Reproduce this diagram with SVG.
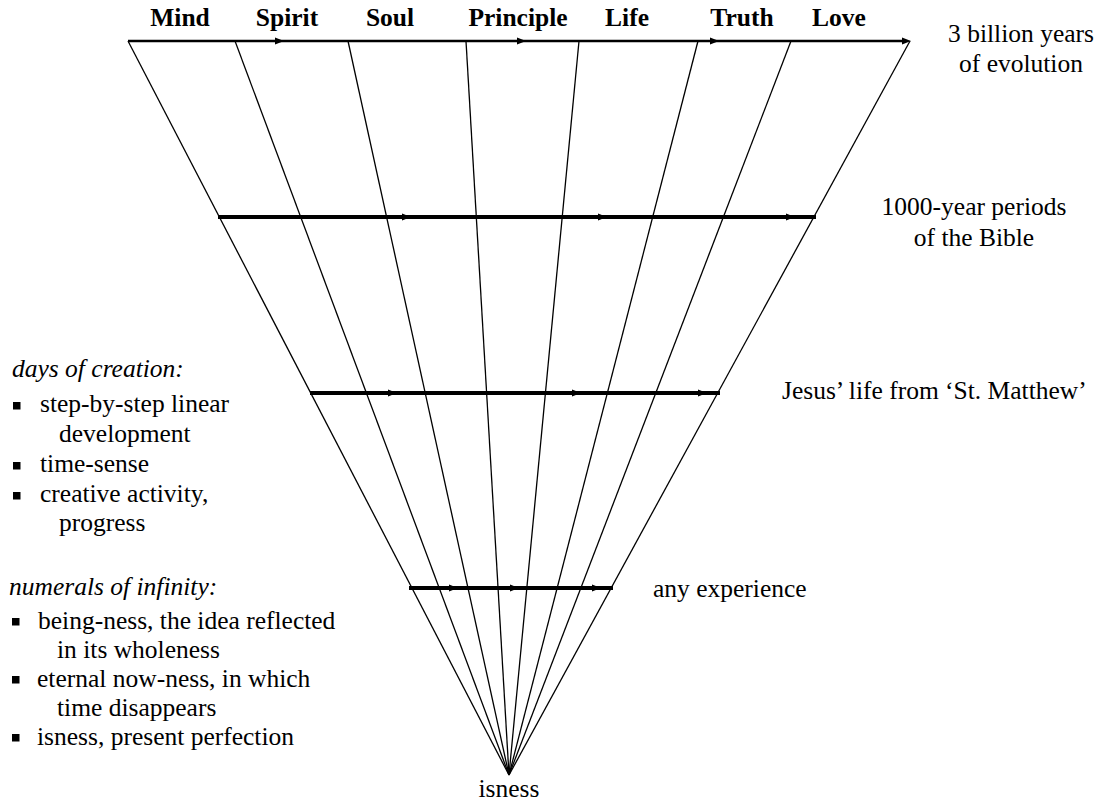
<svg xmlns="http://www.w3.org/2000/svg" xmlns:xlink="http://www.w3.org/1999/xlink" width="1099" height="804" viewBox="0 0 1099 804">
<style>
  text { font-family: "Liberation Serif", Tinos, "Times New Roman", Times, "DejaVu Serif", "Noto Serif", serif; font-size: 25.5px; fill: #000; }
  .b { font-weight: bold; text-anchor: middle; }
  .i { font-style: italic; }
  .c { text-anchor: middle; }
  .fan line { stroke: #000; stroke-width: 1.3; }
  .bar { stroke: #000; fill: none; }
  .ah { fill: #000; }
  .sq { fill: #000; }
</style>
<defs>
  <path id="ah" class="ah" d="M0,0 L-9,-3.6 L-9,3.6 Z"/>
</defs>
<rect width="1099" height="804" fill="#fff"/>

<g id="connectors">
  <g class="fan">
    <line x1="128" y1="41" x2="509" y2="775"/>
    <line x1="235" y1="41" x2="509" y2="775"/>
    <line x1="348" y1="41" x2="509" y2="775"/>
    <line x1="466" y1="41" x2="509" y2="775"/>
    <line x1="579" y1="41" x2="509" y2="775"/>
    <line x1="698" y1="41" x2="509" y2="775"/>
    <line x1="791" y1="41" x2="509" y2="775"/>
    <line x1="910" y1="41" x2="509" y2="775"/>
  </g>
  <g id="bar-top">
    <line class="bar" x1="128" y1="41" x2="905" y2="41" stroke-width="2.5"/>
    <use xlink:href="#ah" href="#ah" x="284" y="41"/>
    <use xlink:href="#ah" href="#ah" x="526" y="41"/>
    <use xlink:href="#ah" href="#ah" x="719" y="41"/>
    <use xlink:href="#ah" href="#ah" x="911" y="41"/>
  </g>
  <g id="bar-bible">
    <line class="bar" x1="218" y1="217" x2="816" y2="217" stroke-width="4"/>
    <use xlink:href="#ah" href="#ah" x="411" y="217"/>
    <use xlink:href="#ah" href="#ah" x="607" y="217"/>
    <use xlink:href="#ah" href="#ah" x="795" y="217"/>
  </g>
  <g id="bar-jesus">
    <line class="bar" x1="310" y1="393" x2="720" y2="393" stroke-width="4"/>
    <use xlink:href="#ah" href="#ah" x="397" y="393"/>
    <use xlink:href="#ah" href="#ah" x="581" y="393"/>
    <use xlink:href="#ah" href="#ah" x="707" y="393"/>
  </g>
  <g id="bar-any">
    <line class="bar" x1="409" y1="588" x2="613" y2="588" stroke-width="4"/>
    <use xlink:href="#ah" href="#ah" x="458" y="588"/>
    <use xlink:href="#ah" href="#ah" x="519" y="588"/>
    <use xlink:href="#ah" href="#ah" x="601" y="588"/>
  </g>
</g>

<g id="top-labels">
  <text class="b" x="180" y="26">Mind</text>
  <text class="b" x="287" y="26">Spirit</text>
  <text class="b" x="390" y="26">Soul</text>
  <text class="b" x="518" y="26">Principle</text>
  <text class="b" x="627" y="26">Life</text>
  <text class="b" x="742" y="26">Truth</text>
  <text class="b" x="839" y="26">Love</text>
</g>

<g id="right-labels">
  <text class="c" x="1021" y="42">3 billion years</text>
  <text class="c" x="1021" y="72">of evolution</text>
  <text class="c" x="974" y="215">1000-year periods</text>
  <text class="c" x="974" y="246">of the Bible</text>
  <text x="782" y="399">Jesus’ life from ‘St. Matthew’</text>
  <text x="653" y="597">any experience</text>
  <text class="c" x="509" y="797">isness</text>
</g>

<g id="days-of-creation">
  <text class="i" x="12" y="377">days of creation:</text>
  <rect class="sq" x="13" y="402" width="7.5" height="7.5"/>
  <text x="40" y="412">step-by-step linear</text>
  <text x="59" y="442">development</text>
  <rect class="sq" x="13" y="462" width="7.5" height="7.5"/>
  <text x="40" y="472">time-sense</text>
  <rect class="sq" x="13" y="492" width="7.5" height="7.5"/>
  <text x="40" y="502">creative activity,</text>
  <text x="59" y="531">progress</text>
</g>

<g id="numerals-of-infinity">
  <text class="i" x="9" y="595">numerals of infinity:</text>
  <rect class="sq" x="12" y="618" width="7.5" height="7.5"/>
  <text x="38" y="629">being-ness, the idea reflected</text>
  <text x="57" y="658">in its wholeness</text>
  <rect class="sq" x="12" y="676" width="7.5" height="7.5"/>
  <text x="37" y="687">eternal now-ness, in which</text>
  <text x="57" y="716">time disappears</text>
  <rect class="sq" x="12" y="734" width="7.5" height="7.5"/>
  <text x="37" y="745">isness, present perfection</text>
</g>
</svg>
